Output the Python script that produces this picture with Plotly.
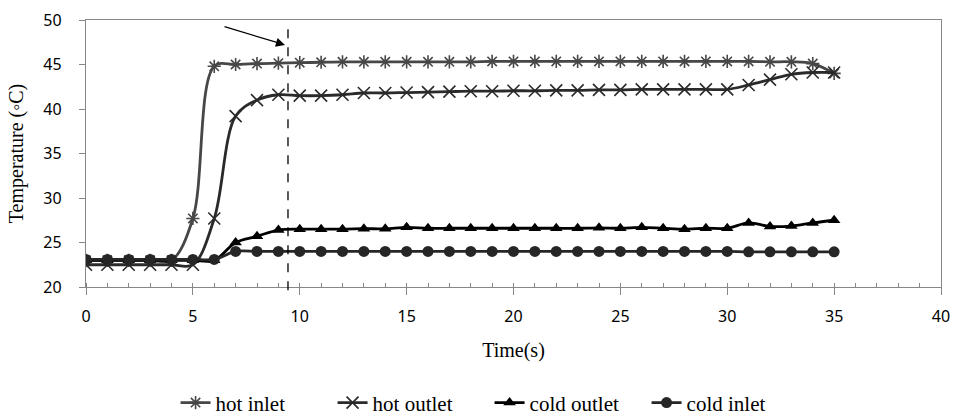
import plotly.graph_objects as go

time_s = list(range(36))

hot_inlet = [23.0, 23.0, 23.0, 23.0, 23.0, 27.7, 44.8, 45.0, 45.1, 45.15, 45.2, 45.25,
             45.3, 45.3, 45.3, 45.3, 45.3, 45.3, 45.3, 45.35, 45.35, 45.35, 45.35, 45.35,
             45.35, 45.35, 45.35, 45.35, 45.35, 45.35, 45.35, 45.35, 45.3, 45.3, 45.1, 44.0]

hot_outlet = [22.5, 22.5, 22.5, 22.5, 22.5, 22.5, 27.7, 39.2, 41.0, 41.6, 41.5, 41.5,
              41.6, 41.8, 41.8, 41.85, 41.9, 41.95, 42.0, 42.0, 42.05, 42.05, 42.1, 42.1,
              42.15, 42.15, 42.2, 42.2, 42.2, 42.2, 42.2, 42.7, 43.3, 43.9, 44.1, 44.1]

cold_outlet = [23.0, 23.0, 23.0, 23.0, 23.0, 23.0, 23.0, 25.0, 25.7, 26.4, 26.5, 26.5,
               26.5, 26.55, 26.55, 26.7, 26.6, 26.6, 26.6, 26.6, 26.6, 26.6, 26.6, 26.6,
               26.65, 26.6, 26.7, 26.6, 26.5, 26.6, 26.6, 27.2, 26.8, 26.85, 27.2, 27.5]

cold_inlet = [23.1, 23.1, 23.1, 23.1, 23.1, 23.1, 23.1, 24.0, 24.0, 24.0, 24.0, 24.0,
              24.0, 24.0, 24.0, 24.0, 24.0, 24.0, 24.0, 24.0, 24.0, 24.0, 24.0, 24.0,
              24.0, 24.0, 24.0, 24.0, 24.0, 24.0, 24.0, 23.95, 23.95, 23.95, 23.95, 23.95]

series_names = ["hot inlet", "hot outlet", "cold outlet", "cold inlet"]

marker_time = 9.45
arrow_head = (9.31, 47.2)
arrow_tail = (6.41, 49.3)

fig = go.Figure()

fig.add_trace(go.Scatter(
    x=time_s, y=hot_inlet, name=series_names[0], mode="lines+markers",
    line=dict(color="#474747", width=2.8, shape="spline", smoothing=1),
    marker=dict(symbol="asterisk-open", size=11, line=dict(color="#474747", width=1.6)),
))
fig.add_trace(go.Scatter(
    x=time_s, y=hot_outlet, name=series_names[1], mode="lines+markers",
    line=dict(color="#2a2a2a", width=2.8, shape="spline", smoothing=1),
    marker=dict(symbol="x-thin-open", size=12, line=dict(color="#474747", width=1.6)),
))
fig.add_trace(go.Scatter(
    x=time_s, y=cold_outlet, name=series_names[2], mode="lines+markers",
    line=dict(color="#000000", width=2.8, shape="spline", smoothing=1),
    marker=dict(symbol="triangle-up", size=11, color="#000000"),
))
fig.add_trace(go.Scatter(
    x=time_s, y=cold_inlet, name=series_names[3], mode="lines+markers",
    line=dict(color="#262626", width=2.8, shape="spline", smoothing=1),
    marker=dict(symbol="circle", size=11, color="#262626"),
))

fig.add_shape(type="line", xref="x", yref="paper", x0=marker_time, x1=marker_time,
              y0=-0.012, y1=0.966, line=dict(color="#000000", width=1.3, dash="dash"))

fig.add_annotation(x=arrow_head[0], y=arrow_head[1], ax=arrow_tail[0], ay=arrow_tail[1],
                   xref="x", yref="y", axref="x", ayref="y", text="", showarrow=True,
                   arrowhead=2, arrowsize=1.4, arrowwidth=1.3, arrowcolor="#000000")

axis_gray = "#878787"
tick_font = dict(family="Noto Sans, Open Sans, sans-serif", size=16, color="#000000")
title_font = dict(family="Liberation Serif, Times New Roman, serif", size=20, color="#000000")
legend_font = dict(family="Liberation Serif, Times New Roman, serif", size=21, color="#000000")

fig.update_xaxes(
    range=[0, 40], dtick=5, tick0=0, showgrid=False, zeroline=False, automargin=False,
    showline=True, linecolor=axis_gray, linewidth=1.3, mirror=True,
    ticks="outside", ticklen=7, tickcolor=axis_gray, tickwidth=1.3,
    minor=dict(dtick=1, ticks="inside", ticklen=4, tickcolor=axis_gray, tickwidth=1.2, showgrid=False),
    tickfont=tick_font, ticklabelstandoff=8,
    title=dict(text="Time(s)", font=title_font, standoff=16),
)
fig.update_yaxes(
    range=[20, 50], dtick=5, tick0=20, showgrid=False, zeroline=False, automargin=False,
    showline=True, linecolor=axis_gray, linewidth=1.3, mirror=True,
    ticks="outside", ticklen=6, tickcolor=axis_gray, tickwidth=1.3,
    tickfont=tick_font, ticklabelstandoff=14,
    title=dict(text="Temperature (◦C)", font=title_font, standoff=14),
)

fig.update_layout(
    width=956, height=415,
    margin=dict(l=86, r=15, t=20, b=128, autoexpand=False),
    paper_bgcolor="#ffffff", plot_bgcolor="#ffffff",
    showlegend=True,
    legend=dict(orientation="h", x=0.472, xanchor="center", xref="paper",
                y=0.029, yanchor="middle", yref="container",
                font=legend_font, itemwidth=30, entrywidth=112, tracegroupgap=0,
                bgcolor="rgba(0,0,0,0)"),
)

fig.write_html("out.html")
